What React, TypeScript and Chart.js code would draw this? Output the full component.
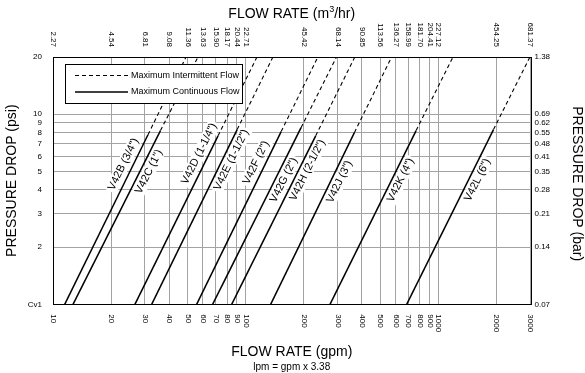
import React, { useEffect, useRef } from "react";
import { Chart, registerables } from "chart.js";

Chart.register(...registerables);

// Valve names
const valves = [
  'V42B (3/4")',
  'V42C (1")',
  'V42D (1-1/4")',
  'V42E (1-1/2")',
  'V42F (2")',
  'V42G (2")',
  'V42H (2-1/2")',
  'V42J (3")',
  'V42K (4")',
  'V42L (6")',
];
// Flow (gpm) at 1 psi (Cv1 line)
const flowAtCv1 = [11.5, 12.7, 26.6, 32.5, 55.6, 67.3, 84.5, 134.6, 273.5, 683.5];
// End of maximum continuous flow: flow (gpm) and pressure drop (psi)
const maxContFlow = [31.1, 36.1, 71.8, 90.2, 152.6, 193.6, 230.5, 366, 765, 1928];
const maxContPsi = [7.8, 8.2, 7.7, 8.3, 8.1, 8.5, 7.7, 8.0, 8.2, 8.3];
// Flow (gpm) at 20 psi (end of intermittent flow line)
const flowAt20 = [49.0, 56.5, 114.3, 138.3, 236.6, 295.6, 368, 571, 1188, 2979];

// Axis ticks
const gpmTicks = [10, 20, 30, 40, 50, 60, 70, 80, 90, 100, 200, 300, 400, 500, 600, 700, 800, 900, 1000, 2000, 3000];
const m3hrLabels = ["2.27", "4.54", "6.81", "9.08", "11.36", "13.63", "15.90", "18.17", "20.44", "22.71", "45.42", "68.14", "90.85", "113.56", "136.27", "158.99", "181.70", "204.41", "227.12", "454.25", "681.37"];
const psiTicks = [1, 2, 3, 4, 5, 6, 7, 8, 9, 10, 20];
const psiLabels = ["Cv1", "2", "3", "4", "5", "6", "7", "8", "9", "10", "20"];
const barLabels = ["0.07", "0.14", "0.21", "0.28", "0.35", "0.41", "0.48", "0.55", "0.62", "0.69", "1.38"];

// Label placement (layout only): psi along each line where the label is centred,
// and side of the line (-1 = left/above, 1 = right/below)
const labelAtPsi = [5.2, 5.2, 5.9, 6.0, 5.3, 4.7, 5.3, 4.6, 4.7, 4.7];
const labelSide = [-1, 1, -1, 1, -1, 1, 1, 1, 1, 1];

const FONT = '"Liberation Sans", Arial, Helvetica, sans-serif';

export default function App() {
  const ref = useRef<HTMLCanvasElement | null>(null);

  useEffect(() => {
    const canvas = ref.current;
    if (!canvas) return;

    const datasets: any[] = [];
    valves.forEach((name, i) => {
      datasets.push({
        label: name + " continuous",
        data: [
          { x: flowAtCv1[i], y: 1 },
          { x: maxContFlow[i], y: maxContPsi[i] },
        ],
        showLine: true,
        borderColor: "#000",
        borderWidth: 1.5,
        pointRadius: 0,
        fill: false,
      });
      datasets.push({
        label: name + " intermittent",
        data: [
          { x: maxContFlow[i], y: maxContPsi[i] },
          { x: flowAt20[i], y: 20 },
        ],
        showLine: true,
        borderColor: "#000",
        borderWidth: 1.1,
        borderDash: [4, 3],
        pointRadius: 0,
        fill: false,
      });
    });

    const labelBgPlugin = {
      id: "labelBg",
      beforeDatasetsDraw(chart: any) {
        const { ctx } = chart;
        const xs = chart.scales.x;
        const ys = chart.scales.y;
        ctx.save();
        ctx.font = `11px ${FONT}`;
        valves.forEach((name, i) => {
          const xb = xs.getPixelForValue(flowAtCv1[i]);
          const yb = ys.getPixelForValue(1);
          const xt = xs.getPixelForValue(flowAt20[i]);
          const yt = ys.getPixelForValue(20);
          const a = Math.atan2(yt - yb, xt - xb);
          const yA = ys.getPixelForValue(labelAtPsi[i]);
          const t = (yA - yb) / (yt - yb);
          const xA = xb + t * (xt - xb);
          const w = ctx.measureText(name).width;
          ctx.save();
          ctx.translate(xA, yA);
          ctx.rotate(a);
          ctx.textAlign = "center";
          ctx.textBaseline = "middle";
          const off = labelSide[i] < 0 ? -9 : 8;
          ctx.fillStyle = "#fff";
          ctx.fillRect(-w / 2 - 2, off - 6.5, w + 4, 13);
          ctx.fillStyle = "#000";
          ctx.fillText(name, 0, off);
          ctx.restore();
        });
        ctx.restore();
      },
    };

    const decorPlugin = {
      id: "decor",
      afterDatasetsDraw(chart: any) {
        const { ctx, chartArea } = chart;
        const xs = chart.scales.x;
        const { left, right, top, bottom } = chartArea;
        ctx.save();

        // Legend box
        const lx = left + 12;
        const ly = top + 7;
        const lw = 177;
        const lh = 39;
        ctx.fillStyle = "#fff";
        ctx.fillRect(lx, ly, lw, lh);
        ctx.strokeStyle = "#000";
        ctx.lineWidth = 1;
        ctx.strokeRect(Math.round(lx) + 0.5, Math.round(ly) + 0.5, lw, lh);
        ctx.beginPath();
        ctx.setLineDash([4, 3]);
        ctx.lineWidth = 1.1;
        ctx.moveTo(lx + 10, ly + 11.5);
        ctx.lineTo(lx + 63, ly + 11.5);
        ctx.stroke();
        ctx.setLineDash([]);
        ctx.beginPath();
        ctx.lineWidth = 1.5;
        ctx.moveTo(lx + 10, ly + 28);
        ctx.lineTo(lx + 63, ly + 28);
        ctx.stroke();
        ctx.fillStyle = "#000";
        ctx.font = `9px ${FONT}`;
        ctx.textAlign = "left";
        ctx.textBaseline = "middle";
        ctx.fillText("Maximum Intermittent Flow", lx + 66, ly + 11.5);
        ctx.fillText("Maximum Continuous Flow", lx + 66, ly + 28);

        // Frame
        ctx.lineWidth = 1;
        ctx.strokeStyle = "#000";
        ctx.strokeRect(Math.round(left) + 0.5, Math.round(top) + 0.5, Math.round(right - left), Math.round(bottom - top));

        // x tick labels (rotated clockwise), bottom gpm and top m3/hr
        ctx.font = `8px ${FONT}`;
        ctx.fillStyle = "#000";
        ctx.textBaseline = "middle";
        gpmTicks.forEach((v, i) => {
          const px = xs.getPixelForValue(v);
          ctx.save();
          ctx.translate(px, bottom + 10);
          ctx.rotate(Math.PI / 2);
          ctx.textAlign = "left";
          ctx.fillText(String(v), 0, 0);
          ctx.restore();
          ctx.save();
          ctx.translate(px, top - 10);
          ctx.rotate(Math.PI / 2);
          ctx.textAlign = "right";
          ctx.fillText(m3hrLabels[i], 0, 0);
          ctx.restore();
        });

        // Top title with superscript
        const cx = (left + right) / 2;
        {
          const p1 = "FLOW RATE (m";
          const p3 = "/hr)";
          ctx.font = `14px ${FONT}`;
          const w1 = ctx.measureText(p1).width;
          const w3 = ctx.measureText(p3).width;
          ctx.font = `9px ${FONT}`;
          const w2 = ctx.measureText("3").width;
          const sx = cx - (w1 + w2 + w3) / 2;
          ctx.fillStyle = "#000";
          ctx.textAlign = "left";
          ctx.textBaseline = "alphabetic";
          ctx.font = `14px ${FONT}`;
          ctx.fillText(p1, sx, 18);
          ctx.font = `9px ${FONT}`;
          ctx.fillText("3", sx + w1, 12);
          ctx.font = `14px ${FONT}`;
          ctx.fillText(p3, sx + w1 + w2, 18);
        }
        ctx.textAlign = "center";
        ctx.textBaseline = "middle";
        ctx.font = `14px ${FONT}`;
        ctx.fillText("FLOW RATE (gpm)", cx, 352);
        ctx.font = `10px ${FONT}`;
        ctx.fillText("lpm = gpm x 3.38", cx, 367);

        const cy = (top + bottom) / 2;
        ctx.font = `14px ${FONT}`;
        ctx.save();
        ctx.translate(12, cy);
        ctx.rotate(-Math.PI / 2);
        ctx.fillText("PRESSURE DROP (psi)", 0, 0);
        ctx.restore();
        ctx.save();
        ctx.translate(577, cy + 3);
        ctx.rotate(Math.PI / 2);
        ctx.fillText("PRESSURE DROP (bar)", 0, 0);
        ctx.restore();

        ctx.restore();
      },
    };

    const setTicks = (vals: number[]) => (scale: any) => {
      scale.ticks = vals.map((v) => ({ value: v }));
    };

    const chart = new Chart(canvas, {
      type: "scatter",
      data: { datasets },
      options: {
        animation: false,
        responsive: false,
        maintainAspectRatio: false,
        events: [],
        layout: { padding: { left: 23, right: 29.5, top: 57, bottom: 68.7 } },
        plugins: { legend: { display: false }, tooltip: { enabled: false } },
        scales: {
          x: {
            type: "logarithmic",
            position: "bottom",
            min: 10,
            max: 3000,
            afterBuildTicks: setTicks(gpmTicks),
            ticks: { display: false, autoSkip: false },
            grid: { color: "#a3a3a3", lineWidth: 1, drawTicks: false },
            border: { display: false },
          },
          y: {
            type: "logarithmic",
            position: "left",
            min: 1,
            max: 20,
            afterBuildTicks: setTicks(psiTicks),
            afterFit: (s: any) => {
              s.width = 30;
            },
            ticks: {
              autoSkip: false,
              padding: 11,
              color: "#000",
              font: { family: FONT, size: 8 },
              callback: (v: any) => psiLabels[psiTicks.indexOf(Number(v))] ?? "",
            },
            grid: { color: "#a3a3a3", lineWidth: 1, drawTicks: false },
            border: { display: false },
          },
          y2: {
            type: "logarithmic",
            position: "right",
            min: 1,
            max: 20,
            afterBuildTicks: setTicks(psiTicks),
            afterFit: (s: any) => {
              s.width = 25;
            },
            ticks: {
              autoSkip: false,
              padding: 4,
              color: "#000",
              font: { family: FONT, size: 8 },
              callback: (v: any) => barLabels[psiTicks.indexOf(Number(v))] ?? "",
            },
            grid: { display: false, drawTicks: false },
            border: { display: false },
          },
        },
      },
      plugins: [labelBgPlugin, decorPlugin],
    } as any);

    return () => chart.destroy();
  }, []);

  return (
    <div style={{ position: "fixed", left: 0, top: 0, width: 585, height: 373, background: "#fff" }}>
      <canvas ref={ref} width={585} height={373} style={{ width: 585, height: 373, display: "block" }} />
    </div>
  );
}
